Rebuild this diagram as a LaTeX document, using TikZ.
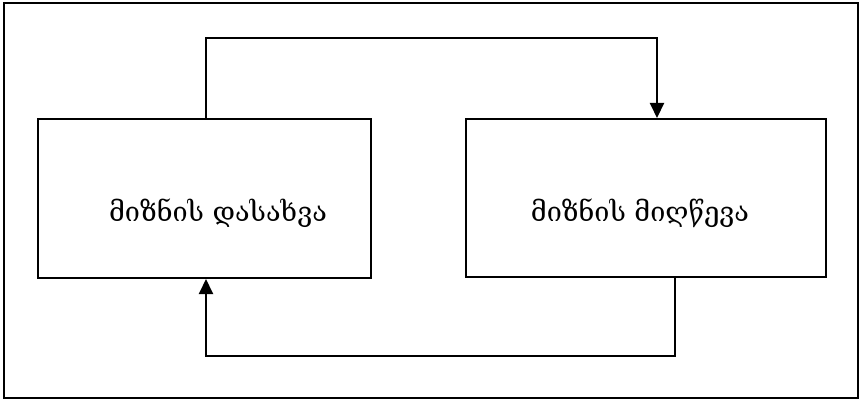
\documentclass[tikz,border=0pt]{standalone}
\usepackage{fontspec}
\newfontfamily\geo{DejaVu Serif}
\usetikzlibrary{arrows.meta}
\begin{document}
\begin{tikzpicture}[x=1pt,y=-1pt,
  box/.style={draw,line width=2pt},
  conn/.style={line width=2pt,-{Triangle[length=15pt,width=14pt]}},
  lbl/.style={font=\geo\fontsize{27}{30}\selectfont,inner sep=0pt}]
\useasboundingbox (0,0) rectangle (861,401);
\draw[line width=2pt] (4,3) rectangle (858,398);
\node[box,minimum width=333pt,minimum height=159pt,anchor=north west] (L) at (37,118) {};
\node[box,minimum width=360pt,minimum height=158pt,anchor=north west] (R) at (465,118) {};
\node[lbl] (lt) at (218,213) {მიზნის დასახვა};
\node[lbl] (rt) at (640,213) {მიზნის მიღწევა};
\coordinate (a1) at (206,38);
\coordinate (a2) at (657,38);
\coordinate (b1) at (675,356);
\coordinate (b2) at (206,356);
\draw[conn] (L.north west -| a1) -- (a1) -- (a2) -- (R.north west -| a2);
\draw[conn] (R.south west -| b1) -- (b1) -- (b2) -- (L.south west -| b2);
\end{tikzpicture}
\end{document}
